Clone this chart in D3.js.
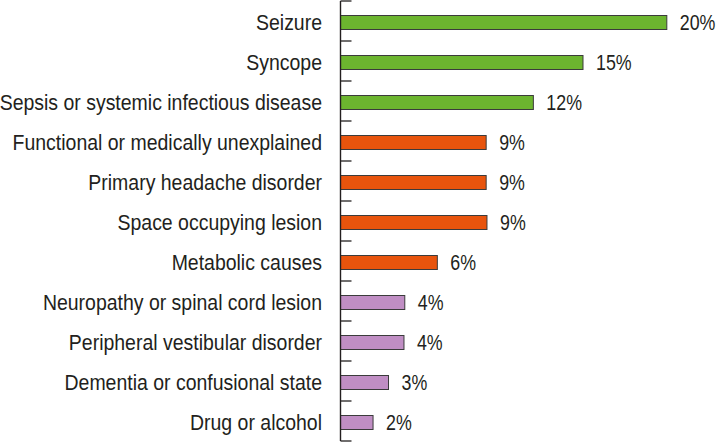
<!DOCTYPE html>
<html>
<head>
<meta charset="utf-8">
<script src="https://cdn.jsdelivr.net/npm/d3@7"></script>
<style>
  html, body { margin: 0; padding: 0; background: #fff; }
  svg text { font-family: "Liberation Sans", Arial, sans-serif; fill: #231f20; }
</style>
</head>
<body>
<svg id="chart" width="717" height="444"></svg>
<script>
const categories = [
  "Seizure",
  "Syncope",
  "Sepsis or systemic infectious disease",
  "Functional or medically unexplained",
  "Primary headache disorder",
  "Space occupying lesion",
  "Metabolic causes",
  "Neuropathy or spinal cord lesion",
  "Peripheral vestibular disorder",
  "Dementia or confusional state",
  "Drug or alcohol"
];
const values = [20.05, 14.9, 11.85, 8.95, 8.95, 9.0, 5.95, 3.95, 3.9, 2.95, 2.0];
const valueLabels = ["20%", "15%", "12%", "9%", "9%", "9%", "6%", "4%", "4%", "3%", "2%"];
const groups = ["g", "g", "g", "o", "o", "o", "o", "p", "p", "p", "p"];
const groupColors = { g: "#6cb52f", o: "#e8540d", p: "#c08ec4" };

const data = categories.map((c, i) => ({ cat: c, value: values[i], label: valueLabels[i], group: groups[i] }));

const svg = d3.select("#chart");
const axisX = 340.5;
const y = d3.scaleBand().domain(categories).range([1, 441]).paddingInner(0.625).paddingOuter(0.3125);
const x = d3.scaleLinear().domain([0, 20]).range([axisX, 666]);
const step = y.step();
const barMid = d => y(d.cat) + 2 + (y.bandwidth() - 1) / 2;

// bars
svg.append("g").selectAll("rect").data(data).join("rect")
  .attr("x", x(0))
  .attr("y", d => y(d.cat) + 2)
  .attr("width", d => x(d.value) - x(0))
  .attr("height", y.bandwidth() - 1)
  .attr("fill", d => groupColors[d.group])
  .attr("stroke", "#3b3b3b")
  .attr("stroke-width", 1);

// axis line and ticks
const ax = svg.append("g");
ax.append("line").attr("x1", axisX).attr("x2", axisX).attr("y1", y.range()[0]).attr("y2", y.range()[1])
  .attr("stroke", "#231f20").attr("stroke-width", 1.4);
ax.selectAll("line.tick").data(d3.range(categories.length + 1)).join("line")
  .attr("class", "tick")
  .attr("x1", axisX).attr("x2", axisX + 11)
  .attr("y1", i => y.range()[0] + i * step).attr("y2", i => y.range()[0] + i * step)
  .attr("stroke", "#231f20").attr("stroke-width", 1.3);

// category labels (condensed look via horizontal scaling)
svg.append("g").selectAll("text").data(data).join("text")
  .attr("transform", d => `translate(322,${barMid(d) + 7.5}) scale(0.885,1)`)
  .attr("text-anchor", "end")
  .attr("font-size", 22)
  .text(d => d.cat);

// value labels
svg.append("g").selectAll("text").data(data).join("text")
  .attr("transform", d => `translate(${x(d.value) + 13},${barMid(d) + 7.5}) scale(0.81,1)`)
  .attr("font-size", 22)
  .text(d => d.label);
</script>
</body>
</html>
